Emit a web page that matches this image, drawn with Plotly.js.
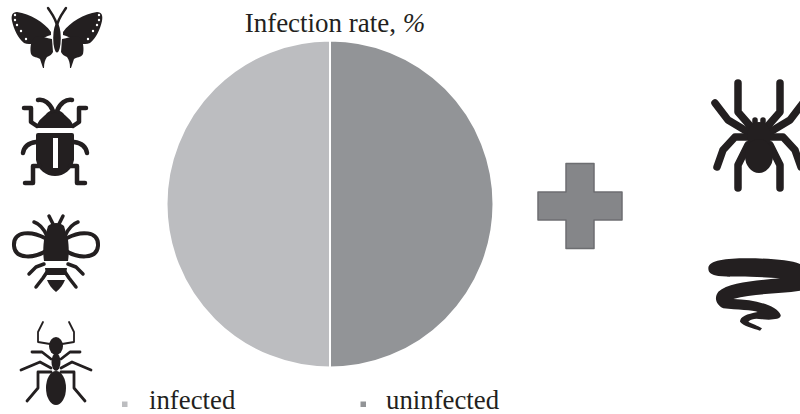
<!DOCTYPE html>
<html>
<head>
<meta charset="utf-8">
<script src="https://cdn.plot.ly/plotly-3.0.1.min.js"></script>
<style>
html,body{margin:0;padding:0;background:#fff;overflow:hidden}
#chart{width:800px;height:414px}
.shapelayer path{stroke-linecap:round;stroke-linejoin:round}
</style>
</head>
<body>
<div id="chart"></div>
<script>
var categories = ['infected', 'uninfected'];
var rates = [50, 50];
var sliceColors = ['#bcbdc0', '#929497'];
var chartTitle = 'Infection rate, <i>%</i>';

var W = 800, H = 414, INK = '#231f20';
var shapes = [];
function px(x){ return x / W; }
function py(y){ return 1 - y / H; }
function toPaper(d){
  return d.replace(/(-?[\d.]+),(-?[\d.]+)/g, function(_, x, y){
    return px(+x).toFixed(5) + ',' + py(+y).toFixed(5);
  });
}
function mirror(d, cx){
  return d.replace(/(-?[\d.]+),(-?[\d.]+)/g, function(_, x, y){
    return (2 * cx - x) + ',' + y;
  });
}
function scale(d, ox, oy){
  return d.replace(/(-?[\d.]+),(-?[\d.]+)/g, function(_, x, y){
    return (ox + x / 3).toFixed(2) + ',' + (oy + y / 3).toFixed(2);
  });
}
function fill(d, color, lineColor, lw){
  shapes.push({type:'path', xref:'paper', yref:'paper', path:toPaper(d), fillcolor:color || INK,
    line:{color:lineColor || color || INK, width:lw === undefined ? 0 : lw}, layer:'above'});
}
function stroke(d, w, color, fillColor){
  shapes.push({type:'path', xref:'paper', yref:'paper', path:toPaper(d),
    fillcolor:fillColor || 'rgba(0,0,0,0)', line:{color:color || INK, width:w}, layer:'above'});
}
function ell(cx, cy, rx, ry, color){
  shapes.push({type:'circle', xref:'paper', yref:'paper', x0:px(cx-rx), x1:px(cx+rx), y0:py(cy+ry), y1:py(cy-ry),
    fillcolor:color || INK, line:{width:0}, layer:'above'});
}
function both(fn, d, cx, a, b, e){ fn(d, a, b, e); fn(mirror(d, cx), a, b, e); }

/* butterfly */
(function(){
  var c = 57;
  both(fill, 'M63,32 C70,22 84,14 97,12 C102,12 103,16 102,21 C100,30 96,38 90,43 C86,45 81,44 77,42 C72,38 67,36 63,35 Z', c);
  both(fill, 'M62,39 C69,38 75,35 79,37 C84,41 84,50 83,54 C81,58 76,57 74,59 C73,62 72,65 71,68 L70,68 C70,63 69,60 67,57 C64,56 62,54 61,52 Z', c);
  ell(57, 38, 3.8, 14.5);
  both(stroke, 'M57,27 C57,20 52,14 48,8', c, 2.4);
  [[15,15],[15,20],[17,25],[21,31],[26,39]].forEach(function(p){
    ell(p[0], p[1], 1.2, 1.3, '#fff'); ell(2*c-p[0], p[1], 1.2, 1.3, '#fff');
  });
})();

/* beetle */
(function(){
  var c = 55;
  fill('M36,128 C38,119 44,117 47,113 C49,111 52,110 55,110 C58,110 61,111 63,113 C66,117 72,119 74,128 L36,128 Z');
  fill('M36,135 Q36,133 38,133 L72,133 Q74,133 74,135 L74,160 C72,170 64,176 55,176 C46,176 38,170 36,160 Z');
  fill('M53,138 L58,138 L58,168 L53,168 Z', '#fff');
  both(stroke, 'M38,100 C44,99 50,103 53,111', c, 4.5);
  both(stroke, 'M24,108 L31,108 L31,122 L37,126', c, 4.5);
  both(stroke, 'M23,153 C24,147 28,143 36,142', c, 4.5);
  both(stroke, 'M25,183 L33,183 L33,166 L40,166', c, 4.5);
})();

/* bee */
(function(){
  var c = 56;
  both(stroke, 'M45,238 C32,231 13,230 14,246 C15,260 35,258 46,251', c, 4, INK, '#fff');
  fill('M48,226 C52,222 60,222 64,226 L68,240 C69,248 69,254 68,261 L44,261 C43,254 43,248 44,240 Z');
  both(stroke, 'M49,216 L53,224', c, 3.5);
  both(stroke, 'M34,222 C40,224 44,229 47,236', c, 3.5);
  both(stroke, 'M29,274 L36,267 L44,264', c, 3.5);
  both(stroke, 'M36,287 L43,278 L47,272', c, 3.5);
  fill('M45,268 L67,268 L66,275 L46,275 Z');
  fill('M47,280 L65,280 C63,285 60,289 56,292 C52,289 49,285 47,280 Z');
})();

/* ant */
(function(){
  var c = 56;
  both(stroke, 'M43,322 L38,332 L38,342 L50,344', c, 1.8);
  ell(56, 346, 7, 9);
  ell(56, 362, 4.5, 9);
  ell(56, 388, 10, 17);
  both(stroke, 'M32,352 L42,352 L51,359', c, 2.8);
  both(stroke, 'M21,370 L40,362 L51,368', c, 2.8);
  both(stroke, 'M27,401 L38,388 L38,372 L51,372', c, 2.8);
})();

/* spider */
(function(){
  var c = 759;
  both(stroke, 'M738,83 L738,112 L752,128', c, 7.5);
  both(stroke, 'M715,103 L728,120 L748,132', c, 7.5);
  both(stroke, 'M717,167 L723,150 L735,137 L748,137', c, 7.5);
  both(stroke, 'M738,188 L738,165 L748,145', c, 7.5);
  both(stroke, 'M755,120 L755,124', c, 5.5);
  ell(759, 136, 12, 14);
  ell(759, 156, 14, 17);
})();

/* scribble */
fill(scale('M55,85 C55,60 110,55 170,55 C240,55 300,60 330,72 L330,152 C270,162 190,160 130,177 C190,178 260,195 272,225 C275,240 240,240 215,238 C200,235 185,235 175,245 C185,250 205,258 216,265 L210,272 C190,265 160,258 150,245 C150,230 170,222 203,216 C190,210 140,210 100,205 C80,195 70,175 85,155 C115,128 190,122 270,115 C200,108 120,112 85,108 C65,105 55,100 55,85 Z', 690, 240));

/* plus sign */
fill('M566,163.5 L594,163.5 L594,192 L622,192 L622,220 L594,220 L594,248.5 L566,248.5 L566,220 L538,220 L538,192 L566,192 Z', '#858689', '#6d6e71', 1.5);

/* legend swatches and labels */
var legendX = [122, 360.5], labelX = [148, 385];
categories.forEach(function(n, i){
  shapes.push({type:'rect', xref:'paper', yref:'paper', x0:px(legendX[i]), x1:px(legendX[i]+5.5),
    y0:py(407), y1:py(401.5), fillcolor:sliceColors[i], line:{width:0}});
});
var annotations = categories.map(function(n, i){
  return {text:n, xref:'paper', yref:'paper', x:px(labelX[i]), y:py(399.5), xanchor:'left', yanchor:'middle',
    showarrow:false, borderpad:0, font:{family:'"Liberation Serif", serif', size:26.8, color:INK}};
});

var cx = 330, cy = 204, r = 163.5;
Plotly.newPlot('chart', [{
  type:'pie', labels:categories, values:rates, sort:false, direction:'clockwise', rotation:180,
  marker:{colors:sliceColors, line:{color:'#ffffff', width:2}},
  textinfo:'none', hoverinfo:'none', showlegend:false,
  domain:{x:[px(cx-r), px(cx+r)], y:[py(cy+r), py(cy-r)]}
}], {
  width:W, height:H, margin:{l:0, r:0, t:0, b:0, pad:0},
  paper_bgcolor:'#ffffff', plot_bgcolor:'#ffffff', showlegend:false,
  title:{text:chartTitle, x:px(335), xanchor:'center', xref:'paper', y:py(23), yanchor:'middle',
    yref:'container', font:{family:'"Liberation Serif", serif', size:27, color:INK}},
  shapes:shapes, annotations:annotations
}, {displayModeBar:false, staticPlot:true});
</script>
</body>
</html>
